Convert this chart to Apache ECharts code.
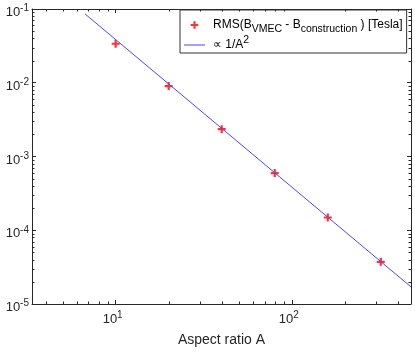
<!DOCTYPE html>
<html>
<head>
<meta charset="utf-8">
<script src="https://cdn.jsdelivr.net/npm/echarts@6/dist/echarts.min.js"></script>
<style>
html,body{margin:0;padding:0;background:#fff;}
#chart{width:415px;height:352px;}
</style>
</head>
<body>
<div id="chart"></div>
<script>
// Data
const aspectRatio = [10, 20, 40, 80, 160, 320];
const rmsTesla = [0.0338, 0.00902, 0.00235, 0.000596, 0.000149, 0.0000373];
const fitX = [6.7, 475];
const fitY = [0.0858, 0.00001706];
const xMin = 3.35, xMax = 475;
const yMin = 1e-5, yMax = 1e-1;
const xMinorTicks = [4,5,6,7,8,9,20,30,40,50,60,70,80,90,200,300,400];
const yMinorTicks = [];
[1e-5,1e-4,1e-3,1e-2].forEach(function(d){ for (let k=2;k<=9;k++) yMinorTicks.push(+(k*d).toPrecision(3)); });

const FONT = '"Liberation Sans", Arial, Helvetica, sans-serif';
const AX = '#262626';

const minorData = xMinorTicks.map(v => [v, 1e-3, 0]).concat(yMinorTicks.map(v => [10, v, 1]));

function expLabel(v){
  const e = Math.round(Math.log10(v));
  return '{n|10}{s|' + e + '}';
}
const labelRich = {
  n: {fontFamily: FONT, fontSize: 13, color: AX, lineHeight: 18},
  s: {fontFamily: FONT, fontSize: 10, color: AX, lineHeight: 11, verticalAlign: 'top'}
};

const chart = echarts.init(document.getElementById('chart'), null, {renderer: 'canvas'});
const baseAxis = {
  type: 'log', logBase: 10,
  axisLine: {show: true, lineStyle: {color: AX, width: 1}},
  axisTick: {show: true, inside: true, length: 4, lineStyle: {color: AX, width: 1}},
  splitLine: {show: false},
  minorTick: {show: false}
};
chart.setOption({
  animation: false,
  backgroundColor: '#fff',
  grid: {left: 32, top: 9, width: 379, height: 295, containLabel: false},
  xAxis: [
    Object.assign({}, baseAxis, {
      position: 'bottom', min: xMin, max: xMax,
      name: 'Aspect ratio A', nameLocation: 'middle', nameGap: 29,
      nameTextStyle: {fontFamily: FONT, fontSize: 14, color: AX},
      axisLabel: {show: true, margin: 6, showMinLabel: false, showMaxLabel: false,
        formatter: expLabel, rich: labelRich, padding: [0, 6, 0, 0]}
    }),
    Object.assign({}, baseAxis, {
      position: 'top', min: xMin, max: xMax, axisLabel: {show: false}
    })
  ],
  yAxis: [
    Object.assign({}, baseAxis, {
      position: 'left', min: yMin, max: yMax,
      axisLabel: {show: true, margin: 3, formatter: expLabel, rich: labelRich, padding: [7, 0, 0, 0]}
    }),
    Object.assign({}, baseAxis, {
      position: 'right', min: yMin, max: yMax, axisLabel: {show: false}
    })
  ],
  legend: {
    orient: 'vertical', left: 180, top: 10,
    padding: [8, 4, 1, 4], itemGap: 0, itemWidth: 21, itemHeight: 14,
    backgroundColor: '#fff', borderColor: '#333', borderWidth: 1, borderRadius: 0,
    selectedMode: false,
    textStyle: {
      fontFamily: FONT, fontSize: 12, color: '#000',
      rich: {
        g: {width: 3, lineHeight: 20},
        n: {fontFamily: FONT, fontSize: 12, color: '#000', lineHeight: 20},
        b: {fontFamily: FONT, fontSize: 10.5, color: '#000', lineHeight: 10, verticalAlign: 'bottom'},
        t: {fontFamily: FONT, fontSize: 10.5, color: '#000', lineHeight: 8, verticalAlign: 'top'}
      }
    },
    formatter: function(name){
      if (name === 'rms') return '{g|}{n|RMS(B}{b|VMEC}{n| - B}{b|construction}{n| ) [Tesla]}';
      return '{g|}{n|\u221D 1/A}{t|2}';
    },
    data: [
      {name: 'rms', icon: 'path://M-10.5,-7L-10.5,-7ZM10.5,7L10.5,7ZM-1.1,-3.8L1.1,-3.8L1.1,-1.1L3.8,-1.1L3.8,1.1L1.1,1.1L1.1,3.8L-1.1,3.8L-1.1,1.1L-3.8,1.1L-3.8,-1.1L-1.1,-1.1Z'},
      {name: 'fit', icon: 'path://M0,-7L0,-7ZM21,7L21,7ZM0,-0.5L21,-0.5L21,0.5L0,0.5Z'}
    ]
  },
  series: [
    {
      name: 'rms', type: 'scatter', xAxisIndex: 0, yAxisIndex: 0,
      data: aspectRatio.map((a, i) => [a, rmsTesla[i]]),
      symbol: 'path://M-1.1,-4L1.1,-4L1.1,-1.1L4,-1.1L4,1.1L1.1,1.1L1.1,4L-1.1,4L-1.1,1.1L-4,1.1L-4,-1.1L-1.1,-1.1Z',
      symbolSize: 8,
      itemStyle: {color: '#ff0000'},
      z: 3
    },
    {
      name: 'fit', type: 'line', xAxisIndex: 0, yAxisIndex: 0,
      data: fitX.map((a, i) => [a, fitY[i]]),
      symbol: 'none', showSymbol: false,
      lineStyle: {color: '#4848ff', width: 1},
      itemStyle: {color: '#4848ff'},
      z: 4
    },
    {
      name: 'minor', type: 'custom', xAxisIndex: 0, yAxisIndex: 0,
      data: minorData, silent: true, z: 5, clip: false,
      renderItem: function(params, api){
        const cs = params.coordSys;
        const L = 2.5;
        const st = {stroke: AX, lineWidth: 1};
        if (api.value(2) === 0) {
          const px = Math.round(api.coord([api.value(0), api.value(1)])[0]) + 0.5;
          return {type: 'group', children: [
            {type: 'line', shape: {x1: px, y1: cs.y + cs.height, x2: px, y2: cs.y + cs.height - L}, style: st},
            {type: 'line', shape: {x1: px, y1: cs.y, x2: px, y2: cs.y + L}, style: st}
          ]};
        }
        const py = Math.round(api.coord([api.value(0), api.value(1)])[1]) + 0.5;
        return {type: 'group', children: [
          {type: 'line', shape: {x1: cs.x, y1: py, x2: cs.x + L, y2: py}, style: st},
          {type: 'line', shape: {x1: cs.x + cs.width, y1: py, x2: cs.x + cs.width - L, y2: py}, style: st}
        ]};
      }
    }
  ]
});
</script>
</body>
</html>
